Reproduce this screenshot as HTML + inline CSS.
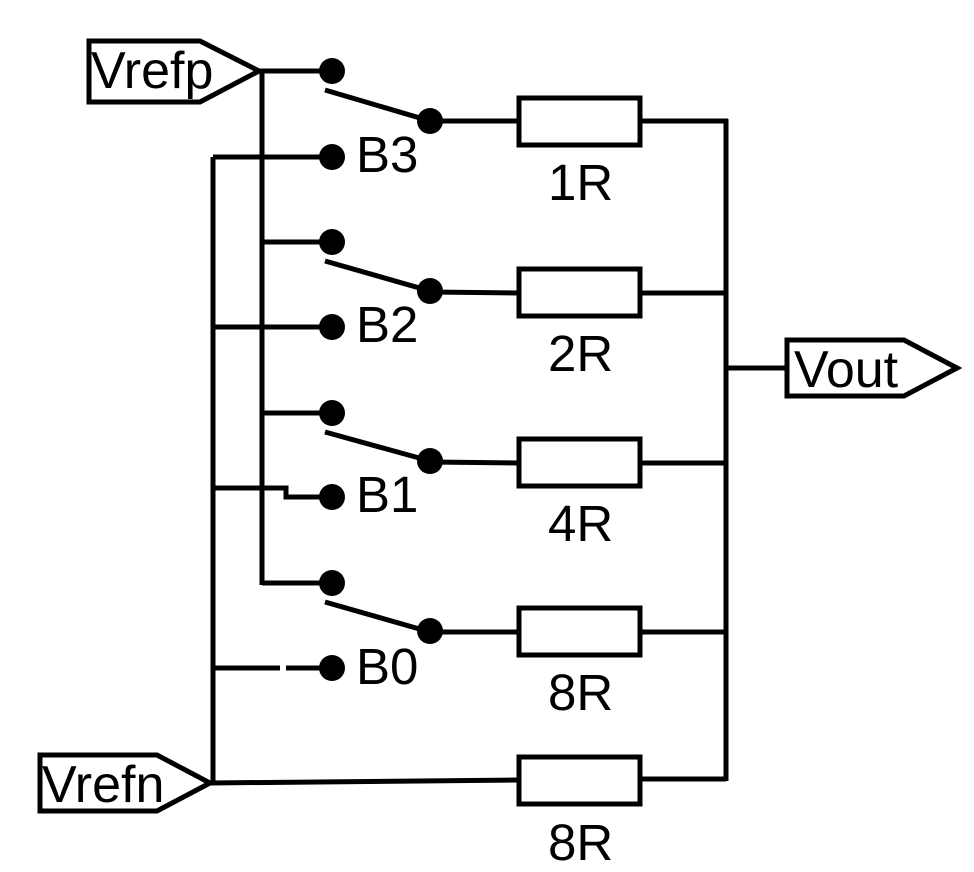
<!DOCTYPE html>
<html><head><style>html,body{margin:0;padding:0;background:#fff}svg{display:block}</style></head>
<body>
<svg width="974" height="872" viewBox="0 0 974 872" xmlns="http://www.w3.org/2000/svg">
<g fill="none" stroke="#000" stroke-width="5" stroke-linejoin="miter" stroke-linecap="butt">
<polygon points="89,41 200,41 259,71 200,102 89,102"/>
<line x1="259" y1="71" x2="332" y2="71"/>
<line x1="262" y1="71" x2="262" y2="585"/>
<line x1="262" y1="242" x2="332" y2="242"/>
<line x1="262" y1="413" x2="332" y2="413"/>
<line x1="262" y1="583" x2="332" y2="583"/>
<polygon points="40,755 157,755 210,783 157,811 40,811"/>
<line x1="213" y1="157" x2="213" y2="784"/>
<line x1="213" y1="157" x2="332" y2="157"/>
<line x1="213" y1="327" x2="332" y2="327"/>
<polyline points="213,488 286,488 286,497 332,497"/>
<line x1="213" y1="668" x2="280" y2="668"/>
<line x1="286" y1="668" x2="332" y2="668"/>
<line x1="210" y1="783" x2="517" y2="780"/>
<line x1="325" y1="90" x2="430" y2="121"/>
<line x1="325" y1="261" x2="430" y2="291"/>
<line x1="325" y1="432" x2="430" y2="461"/>
<line x1="325" y1="602" x2="430" y2="632"/>
<line x1="430" y1="121" x2="517" y2="121"/>
<line x1="430" y1="292" x2="517" y2="293"/>
<line x1="430" y1="462" x2="517" y2="463"/>
<line x1="430" y1="632" x2="517" y2="632"/>
<rect x="519" y="98" width="121" height="47"/>
<rect x="519" y="269" width="121" height="47"/>
<rect x="519" y="439" width="121" height="47"/>
<rect x="519" y="608" width="121" height="47"/>
<rect x="519" y="757" width="121" height="47"/>
<line x1="640" y1="121" x2="728" y2="121"/>
<line x1="640" y1="293" x2="726" y2="293"/>
<line x1="640" y1="463" x2="726" y2="463"/>
<line x1="640" y1="632" x2="726" y2="632"/>
<line x1="640" y1="779" x2="726" y2="779"/>
<line x1="726" y1="119" x2="726" y2="781"/>
<line x1="726" y1="368" x2="787" y2="368"/>
<polygon points="787,340 904,340 957,368 904,396 787,396"/>
</g>
<g fill="#000">
<circle cx="332" cy="71" r="13"/><circle cx="332" cy="157" r="13"/>
<circle cx="332" cy="242" r="13"/><circle cx="332" cy="327" r="13"/>
<circle cx="332" cy="413" r="13"/><circle cx="332" cy="497" r="13"/>
<circle cx="332" cy="583" r="13"/><circle cx="332" cy="668" r="13"/>
<circle cx="430" cy="121" r="13"/><circle cx="430" cy="291" r="13"/>
<circle cx="430" cy="461" r="13"/><circle cx="430" cy="631" r="13"/>
</g>
<g font-family="Liberation Sans, sans-serif" font-size="52" fill="#000">
<text x="91" y="88">Vrefp</text>
<text x="42" y="802">Vrefn</text>
<text x="794" y="387">Vout</text>
</g>
<g font-family="Liberation Sans, sans-serif" font-size="51" fill="#000">
<text x="356" y="172">B3</text>
<text x="356" y="342">B2</text>
<text x="356" y="512">B1</text>
<text x="356" y="684">B0</text>
<text x="548" y="200">1R</text>
<text x="548" y="371">2R</text>
<text x="548" y="541">4R</text>
<text x="548" y="710">8R</text>
<text x="548" y="860">8R</text>
</g>
</svg>
</body></html>
